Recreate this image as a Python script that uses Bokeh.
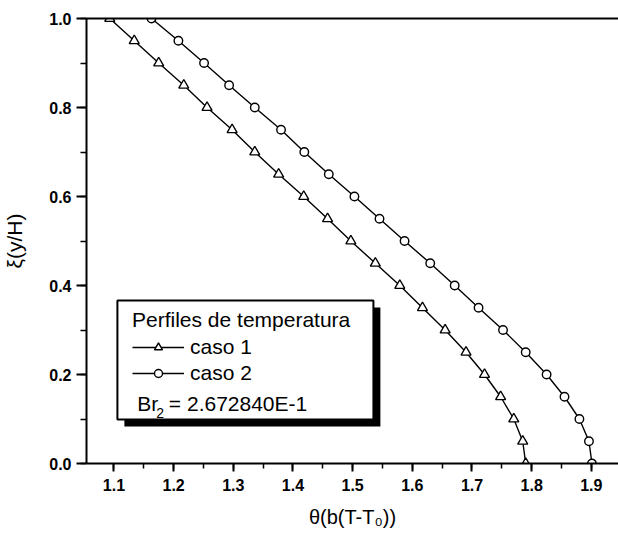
from bokeh.plotting import figure
from bokeh.models import (Range1d, LinearAxis, SingleIntervalTicker, FixedTicker,
                          PrintfTickFormatter, Label, BoxAnnotation, Legend, LegendItem)
from bokeh.embed import file_html
from bokeh.resources import INLINE

# ---- data ----
xi = [0.00, 0.05, 0.10, 0.15, 0.20, 0.25, 0.30, 0.35, 0.40, 0.45, 0.50,
      0.55, 0.60, 0.65, 0.70, 0.75, 0.80, 0.85, 0.90, 0.95, 1.00]
theta_caso1 = [1.790, 1.785, 1.770, 1.748, 1.721, 1.690, 1.655, 1.617, 1.579, 1.538, 1.497,
               1.458, 1.418, 1.376, 1.336, 1.298, 1.256, 1.217, 1.175, 1.134, 1.093]
theta_caso2 = [1.901, 1.896, 1.880, 1.855, 1.825, 1.790, 1.752, 1.711, 1.671, 1.630, 1.587,
               1.545, 1.503, 1.460, 1.419, 1.380, 1.336, 1.293, 1.251, 1.208, 1.163]
series_names = ["caso 1", "caso 2"]
legend_title = "Perfiles de temperatura"
br_label = "Br"
br_sub = "2"
br_value = "= 2.672840E-1"
x_title = "\u03b8(b(T-T\u2080))"
y_title = "\u03be(y/H)"

FONT = "Liberation Sans"

p = figure(width=618, height=537, output_backend="svg", toolbar_location=None,
           x_range=Range1d(1.054, 1.9455), y_range=Range1d(0.0, 1.0),
           min_border_left=84, min_border_right=0, min_border_top=18, min_border_bottom=74)
p.outline_line_color = None
p.xgrid.visible = False
p.ygrid.visible = False
p.background_fill_color = "white"
p.border_fill_color = "white"

# axes styling
for ax in (p.xaxis[0], p.yaxis[0]):
    ax.axis_line_width = 2
    ax.axis_line_color = "black"
    ax.major_tick_line_width = 2
    ax.minor_tick_line_width = 1.5
    ax.major_tick_in = 0
    ax.minor_tick_in = 0
    ax.major_label_text_font = FONT
    ax.major_label_text_font_style = "bold"
    ax.major_label_text_font_size = "16px"
    ax.major_label_text_color = "black"
    ax.formatter = PrintfTickFormatter(format="%.1f")
    ax.axis_label_text_font = FONT
    ax.axis_label_text_font_style = "normal"
    ax.axis_label_text_color = "black"

p.xaxis[0].ticker = SingleIntervalTicker(interval=0.1, num_minor_ticks=2)
p.xaxis[0].major_tick_out = 8
p.xaxis[0].minor_tick_out = 5
p.xaxis[0].major_label_standoff = 7
p.xaxis[0].axis_label = x_title
p.xaxis[0].axis_label_text_font_size = "20px"
p.xaxis[0].axis_label_standoff = 12

p.yaxis[0].ticker = SingleIntervalTicker(interval=0.2, num_minor_ticks=2)
p.yaxis[0].major_tick_out = 10
p.yaxis[0].minor_tick_out = 6
p.yaxis[0].major_label_standoff = 5
p.yaxis[0].axis_label = y_title
p.yaxis[0].axis_label_text_font_size = "21px"
p.yaxis[0].axis_label_standoff = 20

top_axis = LinearAxis(ticker=FixedTicker(ticks=[]), major_label_text_font_size="0px",
                      major_tick_out=0, minor_tick_out=0, major_label_standoff=0,
                      axis_line_width=2, axis_line_color="black")
p.add_layout(top_axis, "above")

# ---- data glyphs ----
l1 = p.line(theta_caso1, xi, line_color="black", line_width=1.4)
l2 = p.line(theta_caso2, xi, line_color="black", line_width=1.4)
m1 = p.scatter(theta_caso1, xi, marker="triangle", size=10, fill_color="white",
               line_color="black", line_width=1.4)
m2 = p.scatter(theta_caso2, xi, marker="circle", size=8.5, fill_color="white",
               line_color="black", line_width=1.4)

# ---- legend box with shadow ----
shadow = BoxAnnotation(left=1.1175, right=1.5465, top=0.3506, bottom=0.0831,
                       fill_color="black", fill_alpha=1.0, line_color=None)
box = BoxAnnotation(left=1.1058, right=1.5348, top=0.3663, bottom=0.0989,
                    fill_color="white", fill_alpha=1.0, line_color="black",
                    line_alpha=1.0, line_width=2)
p.add_layout(shadow)
p.add_layout(box)

legend = Legend(items=[LegendItem(label=series_names[0], renderers=[l1, m1]),
                       LegendItem(label=series_names[1], renderers=[l2, m2])],
                title=legend_title, location=(46, 78), margin=0, padding=0,
                border_line_color=None, background_fill_alpha=0.0,
                title_text_font=FONT, title_text_font_style="normal",
                title_text_font_size="21px", title_text_color="black", title_standoff=3,
                label_text_font=FONT, label_text_font_size="21px", label_text_color="black",
                glyph_width=52, glyph_height=20, label_height=20,
                label_standoff=6, spacing=2)
p.add_layout(legend)

p.add_layout(Label(x=1.1391, y=0.1355, text=br_label, text_font=FONT, text_color="black",
                   text_font_size="21px", text_baseline="alphabetic", text_align="left"))
p.add_layout(Label(x=1.1707, y=0.1124, text=br_sub, text_font=FONT, text_color="black",
                   text_font_size="14px", text_baseline="alphabetic", text_align="left"))
p.add_layout(Label(x=1.1920, y=0.1355, text=br_value, text_font=FONT, text_color="black",
                   text_font_size="21px", text_baseline="alphabetic", text_align="left"))

open("out.html", "w").write(file_html(p, INLINE))
